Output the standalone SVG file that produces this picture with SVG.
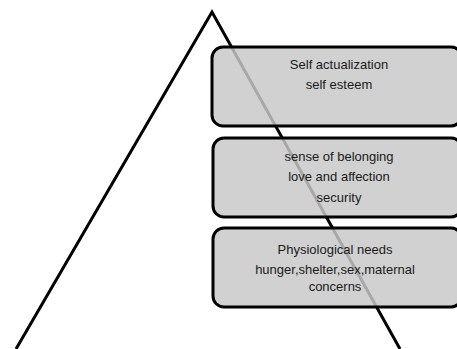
<svg xmlns="http://www.w3.org/2000/svg" width="457" height="349" viewBox="0 0 457 349">
<style>
.box{fill:#c8c8c8;fill-opacity:0.84;stroke:#000;stroke-width:3}
.t{font-family:"Liberation Sans",Arial,sans-serif;font-size:13px;fill:#1a1a1a;text-anchor:middle}
.pyr{fill:none;stroke:#000;stroke-width:3;stroke-linejoin:miter}
</style>
<rect width="457" height="349" fill="#fff"/>
<g id="connectors">
<polyline class="pyr" points="16,349 212,12 400,349"/>
</g>
<g id="node-self">
<rect class="box" x="212" y="47" width="250" height="79" rx="11"/>
<text class="t" x="339" y="69">Self actualization</text>
<text class="t" x="339" y="89">self esteem</text>
</g>
<g id="node-belonging">
<rect class="box" x="213" y="138" width="249" height="79" rx="11"/>
<text class="t" x="339" y="161">sense of belonging</text>
<text class="t" x="339" y="181">love and affection</text>
<text class="t" x="339" y="202">security</text>
</g>
<g id="node-physio">
<rect class="box" x="213" y="228" width="249" height="79" rx="11"/>
<text class="t" x="335" y="254">Physiological needs</text>
<text class="t" x="335" y="274">hunger,shelter,sex,maternal</text>
<text class="t" x="335" y="291">concerns</text>
</g>
</svg>
